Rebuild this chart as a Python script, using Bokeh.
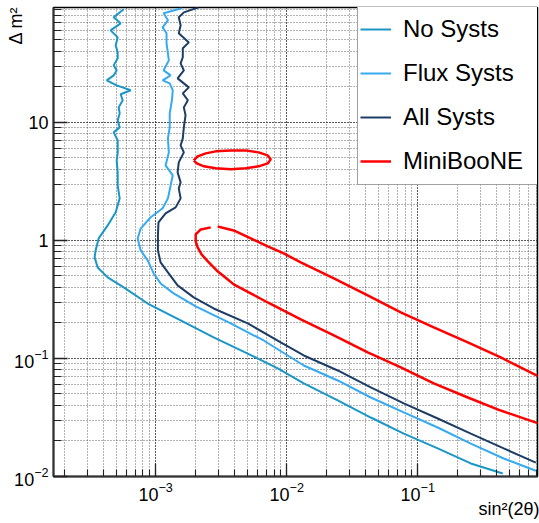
import math
from bokeh.plotting import figure
from bokeh.models import Legend, LegendItem, LogTicker, Range1d, Title
from bokeh.embed import file_html
from bokeh.resources import INLINE

FONT = "Liberation Sans"

# ---------------- data ----------------
no_x = [5.70e-4, 4.78e-4, 5.40e-4, 4.53e-4, 5.13e-4, 4.95e-4, 5.13e-4, 5.13e-4, 4.78e-4, 5.04e-4,
        4.78e-4, 4.23e-4, 5.04e-4, 6.45e-4, 5.40e-4, 5.60e-4, 5.22e-4, 5.31e-4, 5.13e-4, 5.31e-4,
        4.78e-4, 5.13e-4, 5.13e-4, 5.04e-4, 5.13e-4, 5.13e-4, 5.31e-4, 4.95e-4, 4.30e-4, 3.67e-4,
        3.48e-4, 3.42e-4, 3.61e-4, 4.30e-4, 5.70e-4, 8.69e-4, 1.55e-3, 2.77e-3, 5.04e-3, 8.54e-3,
        1.35e-2, 2.45e-2, 4.38e-2, 7.82e-2, 0.142, 0.254, 0.445]
no_y = [90.7, 77.6, 69.0, 60.2, 52.5, 44.9, 39.2, 34.9, 30.4, 27.6,
        25.0, 22.7, 20.6, 18.7, 17.3, 15.4, 13.4, 11.9, 10.4, 9.07,
        8.23, 7.04, 5.46, 4.76, 3.77, 2.92, 2.27, 1.73, 1.34, 1.04,
        0.823, 0.718, 0.590, 0.486, 0.400, 0.292, 0.210, 0.151, 0.110, 0.0823,
        0.0614, 0.0441, 0.0316, 0.0231, 0.0173, 0.0129, 0.0106]

flux_x = [1.58e-3, 1.15e-3, 1.24e-3, 1.13e-3, 1.21e-3, 1.21e-3, 1.24e-3, 1.26e-3, 1.15e-3, 1.30e-3,
          1.13e-3, 1.28e-3, 1.35e-3, 1.33e-3, 1.28e-3, 1.28e-3, 1.24e-3, 1.26e-3, 1.19e-3, 1.35e-3,
          1.30e-3, 1.24e-3, 1.13e-3, 9.16e-4, 7.68e-4, 7.29e-4, 7.68e-4, 8.69e-4, 9.65e-4, 1.09e-3,
          1.37e-3, 2.02e-3, 3.74e-3, 6.67e-3, 1.35e-2, 2.45e-2, 4.38e-2, 7.82e-2, 0.142, 0.254,
          0.453, 0.796]
flux_y = [92.5, 83.9, 73.2, 63.8, 56.8, 46.7, 38.4, 33.5, 27.6, 25.0,
          22.7, 21.4, 18.7, 15.4, 11.9, 9.07, 7.32, 5.57, 4.32, 3.56,
          2.92, 2.27, 1.87, 1.57, 1.26, 1.04, 0.823, 0.677, 0.525, 0.432,
          0.356, 0.276, 0.198, 0.142, 0.0872, 0.0651, 0.0467, 0.0349, 0.0260, 0.0190,
          0.0142, 0.0112]

all_x = [2.13e-3, 1.64e-3, 1.50e-3, 1.55e-3, 1.50e-3, 1.79e-3, 1.61e-3, 1.61e-3, 1.55e-3, 1.64e-3,
         1.47e-3, 1.79e-3, 1.61e-3, 1.76e-3, 1.64e-3, 1.69e-3, 1.64e-3, 1.61e-3, 1.55e-3, 1.64e-3,
         1.50e-3, 1.47e-3, 1.55e-3, 1.50e-3, 1.55e-3, 1.42e-3, 1.19e-3, 1.05e-3, 1.04e-3, 1.04e-3,
         1.09e-3, 1.24e-3, 1.47e-3, 1.95e-3, 2.77e-3, 5.04e-3, 9.00e-3, 1.35e-2, 2.45e-2, 4.38e-2,
         7.82e-2, 0.142, 0.254, 0.453, 0.796]
all_y = [94.3, 85.5, 77.6, 66.4, 56.8, 47.6, 42.4, 35.6, 31.6, 27.6,
         23.6, 19.8, 17.6, 15.4, 13.4, 11.5, 9.07, 7.32, 6.38, 5.57,
         4.58, 3.77, 3.10, 2.76, 2.27, 1.905, 1.694, 1.42, 1.10, 0.823,
         0.651, 0.536, 0.416, 0.329, 0.265, 0.198, 0.137, 0.106, 0.0791, 0.0568,
         0.0416, 0.0310, 0.0231, 0.0173, 0.0131]

mb_upper_x = [2.97e-3, 3.94e-3, 5.31e-3, 7.16e-3, 9.49e-3, 1.28e-2, 2.29e-2, 4.15e-2, 7.42e-2,
              0.1325, 0.241, 0.430, 0.839]
mb_upper_y = [1.314, 1.215, 1.04, 0.890, 0.776, 0.651, 0.476, 0.342, 0.2454,
              0.1832, 0.1367, 0.1020, 0.0704]
mb_lower_x = [2.63e-3, 2.21e-3, 2.02e-3, 2.02e-3, 2.09e-3, 2.24e-3, 2.50e-3, 2.92e-3, 3.55e-3,
              3.94e-3, 5.31e-3, 7.16e-3, 1.28e-2, 2.29e-2, 4.15e-2, 7.42e-2, 0.1325, 0.241,
              0.430, 0.839]
mb_lower_y = [1.289, 1.239, 1.124, 0.981, 0.872, 0.761, 0.664, 0.557, 0.467,
              0.424, 0.356, 0.298, 0.214, 0.1566, 0.1124, 0.0839, 0.0614, 0.0467,
              0.0362, 0.0281]
mb_island_x = [1.95e-3, 2.09e-3, 2.41e-3, 2.87e-3, 3.74e-3, 4.86e-3, 6.11e-3, 7.16e-3, 7.55e-3,
               7.16e-3, 6.11e-3, 4.86e-3, 3.74e-3, 2.87e-3, 2.33e-3, 2.06e-3, 1.95e-3]
mb_island_y = [4.76, 5.15, 5.46, 5.68, 5.79, 5.79, 5.57, 5.25, 4.86,
               4.49, 4.24, 4.08, 4.00, 4.08, 4.24, 4.49, 4.76]

series_names = ["No Systs", "Flux Systs", "All Systs", "MiniBooNE"]
y_plain_ticks = {1: "1", 10: "10"}
x_title = "sin²(2θ)"
y_title = "Δ m²"

X_MIN, X_MAX = 1.66e-4, 0.82
Y_MIN, Y_MAX = 0.01, 94

# ---------------- figure ----------------
p = figure(width=539, height=523, x_axis_type="log", y_axis_type="log",
           x_range=Range1d(X_MIN, X_MAX), y_range=Range1d(Y_MIN, Y_MAX),
           output_backend="svg", toolbar_location=None,
           min_border_left=53, min_border_right=2, min_border_top=7, min_border_bottom=47)
p.background_fill_color = "white"
p.border_fill_color = "white"
p.outline_line_color = "black"
p.outline_line_width = 1.5

xt = LogTicker(num_minor_ticks=10)
yt = LogTicker(num_minor_ticks=10)
p.xaxis.ticker = xt
p.yaxis.ticker = yt
p.xgrid.ticker = xt
p.ygrid.ticker = yt

for ax in (p.xaxis, p.yaxis):
    ax.major_label_text_font = FONT
    ax.major_label_text_font_size = "18px"
    ax.major_label_text_color = "black"
    ax.major_label_standoff = 5
    ax.major_tick_out = 0
    ax.minor_tick_out = 0
    ax.axis_line_color = "#333333"
    ax.axis_line_width = 2
    ax.major_tick_line_color = "#222222"
    ax.minor_tick_line_color = "#222222"
    ax.major_tick_line_width = 1.3
    ax.minor_tick_line_width = 1.1
p.xaxis.major_tick_in = 13
p.xaxis.minor_tick_in = 7
p.yaxis.major_tick_in = 14
p.yaxis.minor_tick_in = 8
p.yaxis.major_label_overrides = y_plain_ticks

# axis titles as side-panel titles aligned to the far ends
p.add_layout(Title(text=x_title, align="right", standoff=-13, offset=-2,
                   text_font=FONT, text_font_size="18px", text_font_style="normal",
                   text_color="black"), "below")
p.add_layout(Title(text=y_title, align="right", standoff=-28, offset=-1,
                   text_font=FONT, text_font_size="18px", text_font_style="normal",
                   text_color="black"), "left")

for g in (p.xgrid, p.ygrid):
    g.grid_line_color = "#222222"
    g.grid_line_alpha = 0.8
    g.grid_line_dash = "1 2"
    g.grid_line_width = 1
    g.minor_grid_line_color = "#222222"
    g.minor_grid_line_alpha = 0.7
    g.minor_grid_line_dash = "1 2"
    g.minor_grid_line_width = 1

c_no, c_flux, c_all, c_mb = "#1a97c7", "#36aaf0", "#1e3d66", "#ff0000"
r_no = p.line(no_x, no_y, line_color=c_no, line_width=2)
r_flux = p.line(flux_x, flux_y, line_color=c_flux, line_width=2)
r_all = p.line(all_x, all_y, line_color=c_all, line_width=2)
r_mb1 = p.line(mb_upper_x, mb_upper_y, line_color=c_mb, line_width=2.5)
r_mb2 = p.line(mb_lower_x, mb_lower_y, line_color=c_mb, line_width=2.5)
r_mb3 = p.line(mb_island_x, mb_island_y, line_color=c_mb, line_width=2.5)

legend = Legend(items=[LegendItem(label=series_names[0], renderers=[r_no]),
                       LegendItem(label=series_names[1], renderers=[r_flux]),
                       LegendItem(label=series_names[2], renderers=[r_all]),
                       LegendItem(label=series_names[3], renderers=[r_mb1])],
                location=(304, 291), padding=2, spacing=2,
                label_height=42, glyph_height=42, glyph_width=31, label_standoff=12,
                label_width=150, label_text_font=FONT, label_text_font_size="24px",
                label_text_color="black", border_line_color="#444444",
                border_line_width=1.5, background_fill_color="white",
                background_fill_alpha=1.0, margin=0)
p.add_layout(legend, "center")

open("out.html", "w").write(file_html(p, INLINE))
